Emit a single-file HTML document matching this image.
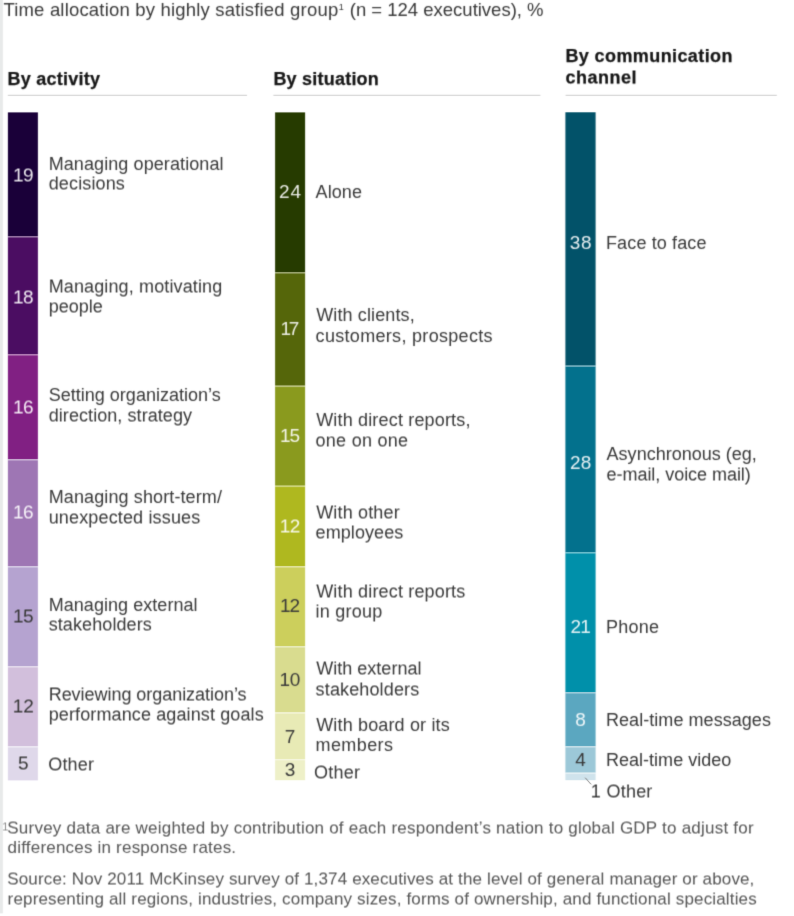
<!DOCTYPE html>
<html lang="en"><head><meta charset="utf-8"><title>Time allocation by highly satisfied group</title>
<style>
html,body{margin:0;padding:0;background:#fff;}
body{width:794px;height:916px;position:relative;overflow:hidden;font-family:"Liberation Sans",sans-serif;color:#383838;}
.t{position:absolute;white-space:nowrap;line-height:1;}
.h{font-weight:700;color:#161616;-webkit-text-stroke:.25px #161616;}
.n{width:30px;text-align:center;}
.w{color:rgba(255,255,255,.9);}
.f{color:#555;}
.layer{position:absolute;left:0;top:0;width:794px;height:916px;}
#page{position:absolute;left:0;top:0;width:794px;height:916px;overflow:hidden;background:#fff;filter:url(#fp);}
#la{filter:url(#fa);}
#lb{filter:url(#fb);}
</style></head><body>
<svg width="0" height="0" style="position:absolute" aria-hidden="true">
<filter id="fp" x="0" y="0" width="100%" height="100%" color-interpolation-filters="sRGB"><feConvolveMatrix order="3" kernelMatrix="0.0070 0.0360 0.0070 0.1260 0.6480 0.1260 0.0070 0.0360 0.0070" edgeMode="duplicate" preserveAlpha="true"/></filter>
<filter id="fa" x="0" y="0" width="100%" height="100%" color-interpolation-filters="sRGB"><feConvolveMatrix order="1 3" kernelMatrix="0.125 0.75 0.125" targetX="0" targetY="1" edgeMode="none" preserveAlpha="false"/><feColorMatrix type="saturate" values="0"/></filter>
<filter id="fb" x="0" y="0" width="100%" height="100%" color-interpolation-filters="sRGB"><feConvolveMatrix order="1 2" kernelMatrix="0.5 0.5" targetX="0" targetY="1" edgeMode="none" preserveAlpha="false"/><feColorMatrix type="saturate" values="0"/></filter>
</svg>
<div id="page">

<svg style="position:absolute;left:0;top:0" width="794" height="916" viewBox="0 0 794 916"><rect x="0" y="0" width="2.9" height="913.4" fill="#e8eaea"/><rect x="7.8" y="94.7" width="239.2" height="1.3" fill="#d9d9d9"/><rect x="273.4" y="94.7" width="267.0" height="1.3" fill="#d9d9d9"/><rect x="565.6" y="94.7" width="211.2" height="1.3" fill="#d9d9d9"/></svg>
<svg style="position:absolute;left:0;top:0" width="794" height="916" viewBox="0 0 794 916"><rect x="7.9" y="112.4" width="30" height="123.80" fill="#1a0039"/><rect x="7.9" y="236.2" width="30" height="118.00" fill="#4b0d62"/><rect x="7.9" y="354.2" width="30" height="105.00" fill="#812083"/><rect x="7.9" y="459.2" width="30" height="107.00" fill="#9e76b4"/><rect x="7.9" y="566.2" width="30" height="100.00" fill="#b5a3d0"/><rect x="7.9" y="666.2" width="30" height="80.10" fill="#d2bfdc"/><rect x="7.9" y="746.3" width="30" height="34.10" fill="#dfd8ea"/><rect x="7.9" y="236.2" width="30" height="1.4" fill="#fff" fill-opacity=".42"/><rect x="7.9" y="354.2" width="30" height="1.4" fill="#fff" fill-opacity=".42"/><rect x="7.9" y="459.2" width="30" height="1.4" fill="#fff" fill-opacity=".42"/><rect x="7.9" y="566.2" width="30" height="1.4" fill="#fff" fill-opacity=".42"/><rect x="7.9" y="666.2" width="30" height="1.4" fill="#fff" fill-opacity=".42"/><rect x="7.9" y="746.3" width="30" height="1.4" fill="#fff" fill-opacity=".42"/><rect x="275.1" y="112.4" width="30" height="159.80" fill="#263b00"/><rect x="275.1" y="272.2" width="30" height="113.50" fill="#55660a"/><rect x="275.1" y="385.7" width="30" height="100.00" fill="#8a9a1e"/><rect x="275.1" y="485.7" width="30" height="80.50" fill="#afb81f"/><rect x="275.1" y="566.2" width="30" height="80.00" fill="#cccf5c"/><rect x="275.1" y="646.2" width="30" height="66.20" fill="#d9dc8f"/><rect x="275.1" y="712.4" width="30" height="46.60" fill="#e8eab5"/><rect x="275.1" y="759" width="30" height="21.20" fill="#eef0c8"/><rect x="275.1" y="272.2" width="30" height="1.4" fill="#fff" fill-opacity=".42"/><rect x="275.1" y="385.7" width="30" height="1.4" fill="#fff" fill-opacity=".42"/><rect x="275.1" y="485.7" width="30" height="1.4" fill="#fff" fill-opacity=".42"/><rect x="275.1" y="566.2" width="30" height="1.4" fill="#fff" fill-opacity=".42"/><rect x="275.1" y="646.2" width="30" height="1.4" fill="#fff" fill-opacity=".42"/><rect x="275.1" y="712.4" width="30" height="1.4" fill="#fff" fill-opacity=".42"/><rect x="275.1" y="759" width="30" height="1.4" fill="#fff" fill-opacity=".42"/><rect x="565.4" y="112.3" width="30.2" height="253.30" fill="#025269"/><rect x="565.4" y="365.6" width="30.2" height="186.60" fill="#03718d"/><rect x="565.4" y="552.2" width="30.2" height="140.00" fill="#0090aa"/><rect x="565.4" y="692.2" width="30.2" height="54.00" fill="#5ba7c0"/><rect x="565.4" y="746.2" width="30.2" height="26.50" fill="#9cc8d8"/><rect x="565.4" y="772.7" width="30.2" height="7.50" fill="#cfe3ec"/><rect x="565.4" y="365.6" width="30.2" height="1.4" fill="#fff" fill-opacity=".42"/><rect x="565.4" y="552.2" width="30.2" height="1.4" fill="#fff" fill-opacity=".42"/><rect x="565.4" y="692.2" width="30.2" height="1.4" fill="#fff" fill-opacity=".42"/><rect x="565.4" y="746.2" width="30.2" height="1.4" fill="#fff" fill-opacity=".42"/><rect x="565.4" y="772.7" width="30.2" height="1.4" fill="#fff" fill-opacity=".42"/></svg>
<div class="layer" id="la">
<div class="t " style="left:3.4px;top:1px;font-size:18.5px;letter-spacing:0.186px;">Time allocation by highly satisfied group</div>
<div class="t " style="left:338.8px;top:3px;font-size:9px;">1</div>
<div class="t " style="left:349.8px;top:1px;font-size:18.5px;letter-spacing:-0.005px;">(n = 124 executives), %</div>
<div class="t h" style="left:7.4px;top:70px;font-size:18px;letter-spacing:.27px;">By activity</div>
<div class="t h" style="left:273.4px;top:70px;font-size:18px;letter-spacing:.22px;">By situation</div>
<div class="t h" style="left:565.4px;top:47px;font-size:18px;letter-spacing:0.405px;">By communication</div>
<div class="t n w" style="left:275px;top:182px;font-size:19px;letter-spacing:0.856px;text-indent:0.856px;">24</div>
<div class="t n w" style="left:275px;top:319px;font-size:19px;letter-spacing:-2.299px;text-indent:-2.299px;">17</div>
<div class="t n w" style="left:275px;top:426px;font-size:19px;letter-spacing:-0.950px;text-indent:-0.950px;">15</div>
<div class="t n" style="left:275px;top:596px;font-size:19px;letter-spacing:-0.954px;text-indent:-0.954px;">12</div>
<div class="t n" style="left:275px;top:670px;font-size:19px;letter-spacing:-0.303px;text-indent:-0.303px;">10</div>
<div class="t n" style="left:275px;top:727px;font-size:19px;">7</div>
<div class="t n" style="left:275px;top:760px;font-size:19px;">3</div>
<div class="t n w" style="left:565.6px;top:233px;font-size:19px;letter-spacing:0.685px;text-indent:0.685px;">38</div>
<div class="t n w" style="left:565.6px;top:453px;font-size:19px;letter-spacing:0.132px;text-indent:0.132px;">28</div>
<div class="t n w" style="left:565.6px;top:617px;font-size:19px;letter-spacing:-0.809px;text-indent:-0.809px;">21</div>
<div class="t n w" style="left:565.6px;top:710px;font-size:19px;">8</div>
<div class="t n" style="left:565.6px;top:750px;font-size:19px;">4</div>
<div class="t " style="left:48.7px;top:155px;font-size:18px;letter-spacing:0.090px;">Managing operational</div>
<div class="t " style="left:48.7px;top:386px;font-size:18px;letter-spacing:0.014px;">Setting organization’s</div>
<div class="t " style="left:48.7px;top:488px;font-size:18px;letter-spacing:0.116px;">Managing short-term/</div>
<div class="t " style="left:48.7px;top:596px;font-size:18px;letter-spacing:0.050px;">Managing external</div>
<div class="t " style="left:315.6px;top:183px;font-size:18px;letter-spacing:0.079px;">Alone</div>
<div class="t " style="left:316.2px;top:306px;font-size:18px;letter-spacing:0.124px;">With clients,</div>
<div class="t " style="left:315.6px;top:327px;font-size:18px;letter-spacing:0.310px;">customers, prospects</div>
<div class="t " style="left:316.2px;top:411px;font-size:18px;letter-spacing:0.168px;">With direct reports,</div>
<div class="t " style="left:316.2px;top:716px;font-size:18px;letter-spacing:0.155px;">With board or its</div>
<div class="t " style="left:315.6px;top:736px;font-size:18px;letter-spacing:0.384px;">members</div>
<div class="t " style="left:606px;top:234px;font-size:18px;letter-spacing:0.125px;">Face to face</div>
<div class="t " style="left:606.6px;top:445px;font-size:18px;letter-spacing:0.009px;">Asynchronous (eg,</div>
<div class="t " style="left:606px;top:618px;font-size:18px;letter-spacing:0.265px;">Phone</div>
<div class="t " style="left:606px;top:711px;font-size:18px;letter-spacing:0.051px;">Real-time messages</div>
<div class="t " style="left:606px;top:751px;font-size:18px;letter-spacing:0.015px;">Real-time video</div>
<div class="t f" style="left:7.6px;top:839px;font-size:17px;letter-spacing:.2px;">differences in response rates.</div>
</div>
<div class="layer" id="lb">
<div class="t h" style="left:565.4px;top:68px;font-size:18px;letter-spacing:.5px;">channel</div>
<div class="t n w" style="left:8.3px;top:165px;font-size:19px;letter-spacing:-0.405px;text-indent:-0.405px;">19</div>
<div class="t n w" style="left:8.3px;top:287px;font-size:19px;letter-spacing:-0.514px;text-indent:-0.514px;">18</div>
<div class="t n w" style="left:8.3px;top:397px;font-size:19px;letter-spacing:-0.506px;text-indent:-0.506px;">16</div>
<div class="t n w" style="left:8.3px;top:502px;font-size:19px;letter-spacing:-0.497px;text-indent:-0.497px;">16</div>
<div class="t n" style="left:8.3px;top:606px;font-size:19px;letter-spacing:-0.697px;text-indent:-0.697px;">15</div>
<div class="t n" style="left:8.3px;top:696px;font-size:19px;letter-spacing:-0.251px;text-indent:-0.251px;">12</div>
<div class="t n" style="left:8.3px;top:753px;font-size:19px;">5</div>
<div class="t n w" style="left:275px;top:516px;font-size:19px;letter-spacing:-0.479px;text-indent:-0.479px;">12</div>
<div class="t " style="left:48.7px;top:174px;font-size:18px;letter-spacing:0.139px;">decisions</div>
<div class="t " style="left:48.7px;top:277px;font-size:18px;letter-spacing:0.126px;">Managing, motivating</div>
<div class="t " style="left:48.7px;top:297px;font-size:18px;">people</div>
<div class="t " style="left:48.7px;top:406px;font-size:18px;letter-spacing:0.071px;">direction, strategy</div>
<div class="t " style="left:48.7px;top:508px;font-size:18px;letter-spacing:0.152px;">unexpected issues</div>
<div class="t " style="left:48.7px;top:615px;font-size:18px;letter-spacing:0.093px;">stakeholders</div>
<div class="t " style="left:48.7px;top:685px;font-size:18px;letter-spacing:-0.040px;">Reviewing organization’s</div>
<div class="t " style="left:48.7px;top:705px;font-size:18px;letter-spacing:0.118px;">performance against goals</div>
<div class="t " style="left:48.2px;top:755px;font-size:18px;letter-spacing:0.208px;">Other</div>
<div class="t " style="left:315.6px;top:431px;font-size:18px;letter-spacing:0.254px;">one on one</div>
<div class="t " style="left:316.2px;top:503px;font-size:18px;letter-spacing:0.159px;">With other</div>
<div class="t " style="left:315.6px;top:523px;font-size:18px;letter-spacing:0.077px;">employees</div>
<div class="t " style="left:316.2px;top:582px;font-size:18px;letter-spacing:0.170px;">With direct reports</div>
<div class="t " style="left:315.6px;top:602px;font-size:18px;letter-spacing:0.215px;">in group</div>
<div class="t " style="left:316.2px;top:659px;font-size:18px;letter-spacing:0.019px;">With external</div>
<div class="t " style="left:315.6px;top:680px;font-size:18px;letter-spacing:0.141px;">stakeholders</div>
<div class="t " style="left:314px;top:763px;font-size:18px;letter-spacing:0.259px;">Other</div>
<div class="t " style="left:606.6px;top:465px;font-size:18px;letter-spacing:-0.046px;">e-mail, voice mail)</div>
<div class="t " style="left:606.6px;top:782px;font-size:18px;letter-spacing:0.177px;">Other</div>
<div class="t " style="left:590.8px;top:782px;font-size:18px;">1</div>
<div class="t f" style="left:2.2px;top:821px;font-size:11px;color:#8a8a8a;">1</div>
<div class="t f" style="left:7.3px;top:819px;font-size:17px;letter-spacing:0.222px;">Survey data are weighted by contribution of each respondent’s nation to global GDP to adjust for</div>
<div class="t f" style="left:7.3px;top:870px;font-size:17px;letter-spacing:0.141px;">Source: Nov 2011 McKinsey survey of 1,374 executives at the level of general manager or above,</div>
<div class="t f" style="left:7.6px;top:890px;font-size:17px;letter-spacing:0.162px;">representing all regions, industries, company sizes, forms of ownership, and functional specialties</div>
</div>
<svg style="position:absolute;left:580px;top:772px" width="20" height="20"><line x1="5.2" y1="5.7" x2="11.1" y2="12.4" stroke="#777" stroke-width="0.9"/></svg>
</div>
</body></html>
